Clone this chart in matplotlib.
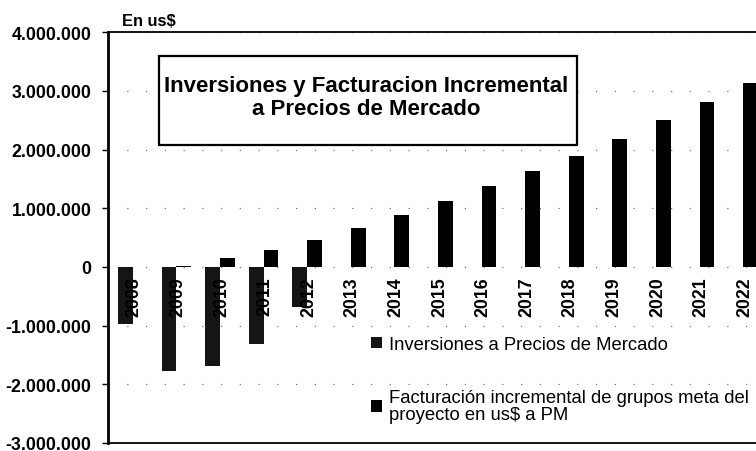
import matplotlib.pyplot as plt
from matplotlib.patches import Rectangle
from matplotlib.ticker import FuncFormatter
import numpy as np

plt.rcParams['font.family'] = ['Liberation Sans', 'DejaVu Sans']

# yearly values in us$
years = [2008, 2009, 2010, 2011, 2012, 2013, 2014, 2015,
         2016, 2017, 2018, 2019, 2020, 2021, 2022]
inversiones = [-970000, -1770000, -1680000, -1310000, -680000, 0, 0, 0,
               0, 0, 0, 0, 0, 0, 0]
facturacion = [0, 20000, 160000, 290000, 460000, 660000, 890000, 1120000,
               1380000, 1630000, 1890000, 2180000, 2500000, 2810000, 3130000]

label_inv = "Inversiones a Precios de Mercado"
label_fac = "Facturación incremental de grupos meta del\nproyecto en us$ a PM"

fig = plt.figure(figsize=(7.56, 4.52), dpi=100)
ax = fig.add_axes([0.1429, 0.0177, 0.869, 0.909])

x = np.arange(len(years))
w = 0.34
b1 = ax.bar(x - w / 2, inversiones, w, color='#151515', label=label_inv)
b2 = ax.bar(x + w / 2, facturacion, w, color='#000000', label=label_fac)

ax.set_xlim(-0.57, 14.5)
ax.set_ylim(-3000000, 4000000)
ax.set_yticks(np.arange(-3000000, 4000001, 1000000))
ax.yaxis.set_major_formatter(FuncFormatter(lambda v, p: f"{int(v):,}".replace(",", ".")))
ax.tick_params(axis='y', labelsize=12.8, length=4, width=1, pad=8)
for t in ax.get_yticklabels():
    t.set_fontweight('bold')
ax.set_xticks([])

# sparse dotted gridlines
ax.grid(axis='y', color='#777777', linestyle=(0, (1, 14)), linewidth=0.9)
ax.set_axisbelow(True)

ax.spines['left'].set_linewidth(2)
ax.spines['top'].set_linewidth(1.3)
ax.spines['bottom'].set_linewidth(1.3)
ax.spines['right'].set_visible(False)

# year labels just under the zero line
for i, yr in enumerate(years):
    ax.annotate(str(yr), xy=(i, 0), xytext=(1, -7), textcoords='offset points',
                rotation=90, ha='center', va='top', fontsize=12.8,
                fontweight='bold')

fig.text(122 / 756, 1 - 21 / 452, "En us$", fontsize=11.8, fontweight='bold',
         ha='left', va='center')

# title box
fig.patches.append(Rectangle((159 / 756, 1 - 146 / 452), 418 / 756, 89 / 452,
                             transform=fig.transFigure, facecolor='white',
                             edgecolor='black', linewidth=1.6, zorder=3))
fig.text(366 / 756, 1 - 98 / 452,
         "Inversiones y Facturacion Incremental\na Precios de Mercado",
         fontsize=16, fontweight='bold', ha='center', va='center',
         linespacing=1.1, zorder=4)

leg = ax.legend(handles=[b1, b2], loc='upper left', bbox_to_anchor=(371 / 756, 1 - 337 / 452),
                bbox_transform=fig.transFigure, frameon=False, fontsize=13.3,
                handlelength=0.6, handleheight=0.6, handletextpad=0.35,
                labelspacing=1.95, borderpad=0, borderaxespad=0)
for t in leg.get_texts():
    t.set_linespacing(1.0)

fig.savefig('out.png', dpi=100, facecolor='white')
